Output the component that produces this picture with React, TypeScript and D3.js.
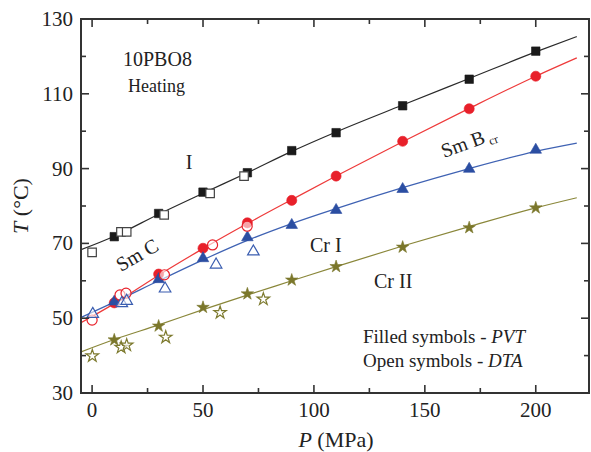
import React from "react";
import * as d3 from "d3";

// ---- data ----
const iPVT: [number, number][] = [[10, 71.8], [30, 78.0], [50, 83.7], [70, 88.9], [90, 94.8], [110, 99.6], [140, 106.8], [170, 113.9], [200, 121.4]];
const iDTA: [number, number][] = [[0, 67.6], [13, 73.1], [15.6, 73.1], [32.5, 77.6], [53.2, 83.4], [68.5, 88.0]];
const iFit: [number, number][] = [[-5, 68.3], [10, 71.9], [30, 77.8], [50, 83.4], [70, 88.9], [90, 94.6], [110, 99.8], [140, 107.0], [170, 114.1], [200, 121.2], [218.5, 125.3]];

const smcPVT: [number, number][] = [[10, 54.1], [30, 61.8], [50, 68.7], [70, 75.5], [90, 81.5], [110, 88.0], [140, 97.3], [170, 106.0], [200, 114.7]];
const smcDTA: [number, number][] = [[0, 49.5], [12.6, 56.2], [15.3, 56.7], [32.6, 61.6], [54.3, 69.6], [69.9, 74.6]];
const smcFit: [number, number][] = [[-5, 48.8], [10, 53.9], [30, 61.5], [50, 68.6], [70, 75.3], [90, 81.7], [110, 88.0], [140, 97.2], [170, 106.1], [200, 114.7], [218.5, 119.6]];

const crIPVT: [number, number][] = [[10, 54.4], [30, 60.4], [50, 66.0], [70, 71.6], [90, 74.9], [110, 78.9], [140, 84.5], [170, 89.9], [200, 95.0]];
const crIDTA: [number, number][] = [[0.3, 51.1], [13.4, 54.0], [15.6, 54.6], [32.9, 57.9], [55.9, 64.3], [72.7, 67.8]];
const crIFit: [number, number][] = [[-5, 50.2], [10, 54.3], [30, 60.0], [50, 65.6], [70, 70.8], [90, 75.3], [110, 79.3], [140, 84.9], [170, 90.0], [200, 94.6], [218.5, 96.8]];

const crIIPVT: [number, number][] = [[10, 44.2], [30, 47.9], [50, 52.9], [70, 56.5], [90, 60.2], [110, 63.8], [140, 69.0], [170, 74.2], [200, 79.5]];
const crIIDTA: [number, number][] = [[0.1, 39.9], [13.1, 42.2], [15.6, 42.8], [33.2, 44.9], [57.7, 51.5], [77.2, 55.1]];
const crIIFit: [number, number][] = [[-5, 41.0], [10, 44.3], [30, 48.2], [50, 52.3], [70, 56.2], [90, 60.0], [110, 63.8], [140, 69.3], [170, 74.5], [200, 79.5], [218.5, 82.2]];

const xTicksMajor = [0, 50, 100, 150, 200];
const xTicksMinor = [25, 75, 125, 175];
const yTicksMajor = [30, 50, 70, 90, 110, 130];
const yTicksMinor = [40, 60, 80, 100, 120];

const W = 591, H = 452;
const L = 81, R = 589, T = 19, B = 393;
const FONT = "'Liberation Serif', 'Times New Roman', serif";

export default function App() {
  const x = d3.scaleLinear().domain([-5, 224]).range([L, R]);
  const y = d3.scaleLinear().domain([30, 130]).range([B, T]);
  const line = d3.line<[number, number]>().x(d => x(d[0])).y(d => y(d[1])).curve(d3.curveMonotoneX);

  const sq = d3.symbol().type(d3.symbolSquare).size(72)();
  const circ = d3.symbol().type(d3.symbolCircle).size(80)();
  const tri = d3.symbol().type(d3.symbolTriangle).size(58)();
  const star = d3.symbol().type(d3.symbolStar).size(48)();

  const series = [
    { fit: iFit, pvt: iPVT, dta: iDTA, lc: "#2a2a2a", mc: "#1a1a1a", oc: "#444", path: sq },
    { fit: smcFit, pvt: smcPVT, dta: smcDTA, lc: "#ee3a3a", mc: "#e8202a", oc: "#e8202a", path: circ },
    { fit: crIFit, pvt: crIPVT, dta: crIDTA, lc: "#3f62b3", mc: "#2b4ea2", oc: "#3a5db0", path: tri },
    { fit: crIIFit, pvt: crIIPVT, dta: crIIDTA, lc: "#8a873a", mc: "#7b772b", oc: "#7d7a2e", path: star },
  ];

  const tickColor = "#333";
  return (
    <svg width={W} height={H} style={{ position: "absolute", left: 0, top: 0, background: "#fff" }} fontFamily={FONT}>
      <defs>
        <clipPath id="plot"><rect x={L} y={T} width={R - L} height={B - T} /></clipPath>
      </defs>
      {/* lines */}
      <g clipPath="url(#plot)">
        {series.map((s, i) => (
          <path key={i} d={line(s.fit) || ""} fill="none" stroke={s.lc} strokeWidth={1.2} />
        ))}
      </g>
      {/* filled symbols */}
      {series.map((s, i) => (
        <g key={"f" + i}>
          {s.pvt.map((d, j) => (
            <path key={j} d={s.path || ""} transform={`translate(${x(d[0])},${y(d[1])})`} fill={s.mc} stroke={s.mc} strokeWidth={0.6} />
          ))}
        </g>
      ))}
      {/* open symbols */}
      {series.map((s, i) => (
        <g key={"o" + i}>
          {s.dta.map((d, j) => (
            <path key={j} d={s.path || ""} transform={`translate(${x(d[0])},${y(d[1])})`} fill="#fff" fillOpacity={i === 0 ? 1 : 0.6} stroke={s.oc} strokeWidth={1.2} />
          ))}
        </g>
      ))}
      {/* frame */}
      <rect x={L} y={T} width={R - L} height={B - T} fill="none" stroke={tickColor} strokeWidth={2} />
      {/* x ticks */}
      {xTicksMajor.map(t => (
        <g key={"xm" + t}>
          <line x1={x(t)} x2={x(t)} y1={B} y2={B - 8} stroke={tickColor} strokeWidth={1.6} />
          <line x1={x(t)} x2={x(t)} y1={T} y2={T + 8} stroke={tickColor} strokeWidth={1.6} />
          <text x={x(t)} y={417} textAnchor="middle" fontSize={21} fill="#222">{t}</text>
        </g>
      ))}
      {xTicksMinor.map(t => (
        <g key={"xn" + t}>
          <line x1={x(t)} x2={x(t)} y1={B} y2={B - 5} stroke={tickColor} strokeWidth={1.6} />
          <line x1={x(t)} x2={x(t)} y1={T} y2={T + 5} stroke={tickColor} strokeWidth={1.6} />
        </g>
      ))}
      {/* y ticks */}
      {yTicksMajor.map(t => (
        <g key={"ym" + t}>
          <line x1={L} x2={L + 8} y1={y(t)} y2={y(t)} stroke={tickColor} strokeWidth={1.6} />
          <line x1={R} x2={R - 8} y1={y(t)} y2={y(t)} stroke={tickColor} strokeWidth={1.6} />
          <text x={73} y={y(t) + 7} textAnchor="end" fontSize={21} fill="#222">{t}</text>
        </g>
      ))}
      {yTicksMinor.map(t => (
        <g key={"yn" + t}>
          <line x1={L} x2={L + 5} y1={y(t)} y2={y(t)} stroke={tickColor} strokeWidth={1.6} />
          <line x1={R} x2={R - 5} y1={y(t)} y2={y(t)} stroke={tickColor} strokeWidth={1.6} />
        </g>
      ))}
      {/* axis titles */}
      <text x={336} y={447} textAnchor="middle" fontSize={22} fill="#222">
        <tspan fontStyle="italic">P</tspan> (MPa)
      </text>
      <text transform="translate(28,206) rotate(-90)" textAnchor="middle" fontSize={22} fill="#222">
        <tspan fontStyle="italic">T</tspan> (°C)
      </text>
      {/* annotations */}
      <text x={123} y={66} fontSize={20} fill="#222">10PBO8</text>
      <text x={128} y={92} fontSize={18} fill="#222">Heating</text>
      <text x={189} y={169} textAnchor="middle" fontSize={20} fill="#222">I</text>
      <text transform="translate(121,272) rotate(-30)" fontSize={20} fill="#222">Sm C</text>
      <text transform="translate(444,158) rotate(-20)" fontSize={20} fill="#222">
        Sm B<tspan fontSize={12} dx={3} dy={4}>cr</tspan>
      </text>
      <text x={310} y={252} fontSize={20} fill="#222">Cr I</text>
      <text x={374} y={288} fontSize={20} fill="#222">Cr II</text>
      <text x={363} y={343} fontSize={19} fill="#222">
        Filled symbols - <tspan fontStyle="italic">PVT</tspan>
      </text>
      <text x={363} y={367} fontSize={19} fill="#222">
        Open symbols - <tspan fontStyle="italic">DTA</tspan>
      </text>
    </svg>
  );
}
